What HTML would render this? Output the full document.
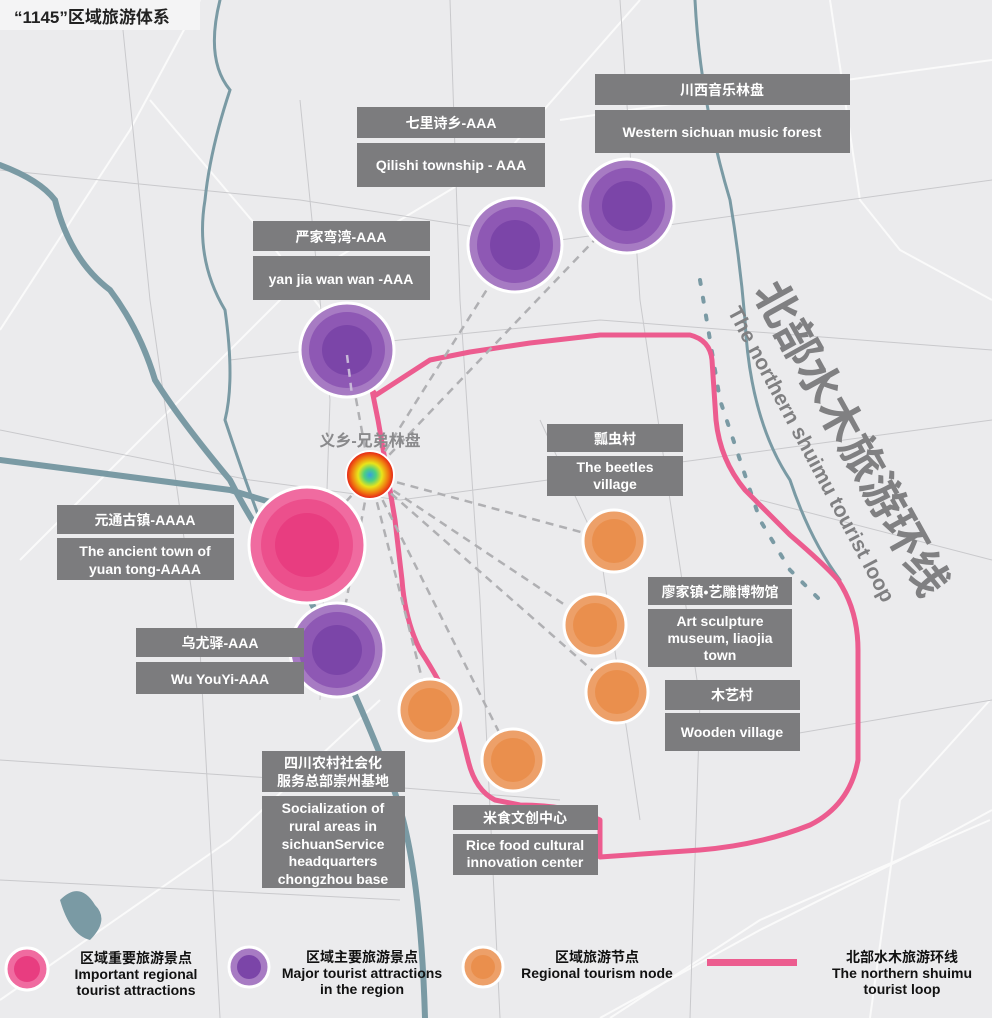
<!DOCTYPE html>
<html><head><meta charset="utf-8"><style>
body{margin:0;width:992px;height:1018px;overflow:hidden;background:#ebebed;}
svg{display:block}
text{font-family:"Liberation Sans","Noto Sans CJK SC",sans-serif;font-weight:bold}
</style></head><body>
<svg width="992" height="1018" viewBox="0 0 992 1018">
<rect width="992" height="1018" fill="#ebebed"/>
<!-- roads -->
<g stroke="#fafafa" stroke-width="2" fill="none">
<path d="M0 330 L130 130 L200 0"/><path d="M20 560 L300 280 L500 160 L640 0"/>
<path d="M150 100 L260 230 L330 320"/><path d="M0 1000 L230 840 L380 700"/>
<path d="M600 1018 L760 930 L900 860 L992 810"/><path d="M870 1018 L900 800 L990 700"/>
<path d="M830 0 L860 200 L900 250 L992 300"/><path d="M560 120 L700 100 L992 60"/>
<path d="M610 1018 L760 920 L990 820"/>
</g>
<g stroke="#c9c9cc" stroke-width="1" fill="none">
<path d="M0 170 L300 200 L560 240 L992 180"/><path d="M0 430 L250 480 L400 500 L992 420"/>
<path d="M120 0 L150 300 L200 650 L220 1018"/><path d="M450 0 L460 300 L480 600 L500 1018"/>
<path d="M620 0 L640 300 L700 700 L690 1018"/><path d="M0 760 L300 780 L560 800"/>
<path d="M0 880 L400 900"/><path d="M230 360 L400 340 L600 320 L992 350"/>
<path d="M300 100 L330 400 L320 700"/><path d="M760 500 L992 560"/><path d="M700 750 L992 700"/>
<path d="M540 420 L600 550 L640 820"/>
</g>
<!-- rivers -->
<g stroke="#7a9aa4" fill="none" stroke-linecap="round">
<path d="M0 165 Q40 180 55 200 Q70 260 110 290 Q140 330 155 380 Q180 420 230 480 Q260 540 310 600 Q360 700 390 780 Q420 850 425 1018" stroke-width="6"/>
<path d="M0 460 L230 490 L330 520" stroke-width="6"/>
<path d="M220 0 Q205 60 230 90 Q210 150 205 200 Q195 260 225 310 Q235 380 225 420 Q245 480 260 520" stroke-width="3"/>
<path d="M695 0 Q700 100 730 200 Q740 260 745 320 Q750 420 790 480 Q810 540 840 580" stroke-width="3"/>
<path d="M700 280 L720 400 L760 520 L790 570 L820 600" stroke-width="4" stroke-dasharray="4 14"/>
</g>
<path d="M60 900 Q80 880 95 905 Q110 920 90 940 Q70 935 60 900Z" fill="#7a9aa4"/>
<!-- title -->
<rect x="0" y="0" width="200" height="30" fill="#f4f4f5"/>
<text x="14" y="23" font-size="17" fill="#222">“1145”区域旅游体系</text>
<!-- loop -->
<path d="M372 390 L376 395 L430 360 L470 352 L530 343 L600 335 L690 335 Q710 340 712 360 L716 420 Q720 460 745 490 L790 535 Q825 565 838 580 Q858 610 858 650 L858 760 Q850 805 810 825 Q760 845 700 850 L600 857 L600 820 Q570 805 520 805 L495 800 Q475 790 468 760 L458 720 Q440 680 420 650 Q405 620 402 580 L395 520 L385 460 L378 420 Z" fill="none" stroke="#ec5c8f" stroke-width="5" stroke-linejoin="round"/>
<!-- dashed connectors -->
<g stroke="#b0b0b3" stroke-width="2.5" stroke-dasharray="8 6">
<line x1="370" y1="475" x2="515" y2="245"/><line x1="370" y1="475" x2="627" y2="206"/>
<line x1="370" y1="475" x2="347" y2="350"/><line x1="370" y1="475" x2="307" y2="545"/>
<line x1="370" y1="475" x2="337" y2="650"/><line x1="370" y1="475" x2="614" y2="541"/>
<line x1="370" y1="475" x2="595" y2="625"/><line x1="370" y1="475" x2="617" y2="692"/>
<line x1="370" y1="475" x2="430" y2="710"/><line x1="370" y1="475" x2="513" y2="760"/>
</g>
<!-- circles -->
<defs>
<radialGradient id="rb"><stop offset="0" stop-color="#35a0e0"/><stop offset="0.25" stop-color="#4ed080"/><stop offset="0.5" stop-color="#e9e41a"/><stop offset="0.75" stop-color="#f07f10"/><stop offset="1" stop-color="#e51818"/></radialGradient>
</defs>
<g stroke="#fff" stroke-width="3">
<g fill="#a77bc3"><circle cx="515" cy="245" r="47"/><circle cx="627" cy="206" r="47"/><circle cx="347" cy="350" r="47"/><circle cx="337" cy="650" r="47"/></g>
<circle cx="307" cy="545" r="58" fill="#f06ba0"/>
<g fill="#eda069"><circle cx="614" cy="541" r="31"/><circle cx="595" cy="625" r="31"/><circle cx="617" cy="692" r="31"/><circle cx="430" cy="710" r="31"/><circle cx="513" cy="760" r="31"/></g>
</g>
<g fill="#8e58b4"><circle cx="515" cy="245" r="38"/><circle cx="627" cy="206" r="38"/><circle cx="347" cy="350" r="38"/><circle cx="337" cy="650" r="38"/></g>
<g fill="#7b45a8"><circle cx="515" cy="245" r="25"/><circle cx="627" cy="206" r="25"/><circle cx="347" cy="350" r="25"/><circle cx="337" cy="650" r="25"/></g>
<circle cx="307" cy="545" r="46" fill="#ec4f8c"/><circle cx="307" cy="545" r="32" fill="#e83d80"/>
<g fill="#ea8f4d"><circle cx="614" cy="541" r="22"/><circle cx="595" cy="625" r="22"/><circle cx="617" cy="692" r="22"/><circle cx="430" cy="710" r="22"/><circle cx="513" cy="760" r="22"/></g>
<circle cx="370" cy="475" r="24" fill="url(#rb)" stroke="#fff" stroke-width="2"/>
<g stroke="#c8b8d8" stroke-width="2.5" stroke-dasharray="8 6"><line x1="347" y1="355" x2="352" y2="395"/></g>
<text x="370" y="446" font-size="16" fill="#8a8a8c" text-anchor="middle" font-weight="normal">义乡-兄弟林盘</text>
<!-- label boxes -->
<g fill="#7c7c7e">
<rect x="357" y="107" width="188" height="31"/><rect x="357" y="143" width="188" height="44"/>
<rect x="595" y="74" width="255" height="31"/><rect x="595" y="110" width="255" height="43"/>
<rect x="253" y="221" width="177" height="30"/><rect x="253" y="256" width="177" height="44"/>
<rect x="547" y="424" width="136" height="28"/><rect x="547" y="456" width="136" height="40"/>
<rect x="57" y="505" width="177" height="29"/><rect x="57" y="538" width="177" height="42"/>
<rect x="648" y="577" width="144" height="28"/><rect x="648" y="609" width="144" height="58"/>
<rect x="136" y="628" width="168" height="29"/><rect x="136" y="662" width="168" height="32"/>
<rect x="665" y="680" width="135" height="30"/><rect x="665" y="713" width="135" height="38"/>
<rect x="262" y="751" width="143" height="41"/><rect x="262" y="796" width="143" height="92"/>
<rect x="453" y="805" width="145" height="25"/><rect x="453" y="834" width="145" height="41"/>
</g>
<g fill="#fff" font-size="14" text-anchor="middle">
<text x="451" y="128">七里诗乡-AAA</text><text x="451" y="170">Qilishi township - AAA</text>
<text x="722" y="95">川西音乐林盘</text><text x="722" y="137">Western sichuan music forest</text>
<text x="341" y="242">严家弯湾-AAA</text><text x="341" y="284">yan jia wan wan -AAA</text>
<text x="615" y="444">瓢虫村</text><text x="615" y="472">The beetles</text><text x="615" y="489">village</text>
<text x="145" y="525">元通古镇-AAAA</text><text x="145" y="556">The ancient town of</text><text x="145" y="574">yuan tong-AAAA</text>
<text x="720" y="597">廖家镇•艺雕博物馆</text><text x="720" y="626">Art sculpture</text><text x="720" y="643">museum, liaojia</text><text x="720" y="660">town</text>
<text x="220" y="648">乌尤驿-AAA</text><text x="220" y="684">Wu YouYi-AAA</text>
<text x="732" y="700">木艺村</text><text x="732" y="737">Wooden village</text>
<text x="333" y="768">四川农村社会化</text><text x="333" y="786">服务总部崇州基地</text>
<text x="333" y="813">Socialization of</text><text x="333" y="831">rural areas in</text><text x="333" y="849">sichuanService</text><text x="333" y="866">headquarters</text><text x="333" y="884">chongzhou base</text>
<text x="525" y="823">米食文创中心</text><text x="525" y="850">Rice food cultural</text><text x="525" y="867">innovation center</text>
</g>
<!-- rotated labels -->
<text transform="translate(848,440) rotate(61)" font-size="44" fill="#808082" text-anchor="middle" dominant-baseline="middle">北部水木旅游环线</text>
<text transform="translate(810,455) rotate(62)" font-size="21" fill="#808082" text-anchor="middle" dominant-baseline="middle">The northern shuimu tourist loop</text>
<!-- legend -->
<g stroke="#fff" stroke-width="3">
<circle cx="27" cy="969" r="21" fill="#f06ba0"/><circle cx="249" cy="967" r="20" fill="#a77bc3"/><circle cx="483" cy="967" r="20" fill="#eda069"/>
</g>
<circle cx="27" cy="969" r="13" fill="#e83d80"/><circle cx="249" cy="967" r="12" fill="#7b45a8"/><circle cx="483" cy="967" r="12" fill="#ea8f4d"/>
<rect x="707" y="959" width="90" height="7" fill="#ec5c8f"/>
<g fill="#111" font-size="14" text-anchor="middle">
<text x="136" y="963">区域重要旅游景点</text><text x="136" y="979">Important regional</text><text x="136" y="995">tourist attractions</text>
<text x="362" y="962">区域主要旅游景点</text><text x="362" y="978">Major tourist attractions</text><text x="362" y="994">in the region</text>
<text x="597" y="962">区域旅游节点</text><text x="597" y="978">Regional tourism node</text>
<text x="902" y="962">北部水木旅游环线</text><text x="902" y="978">The northern shuimu</text><text x="902" y="994">tourist loop</text>
</g>
</svg>
</body></html>
